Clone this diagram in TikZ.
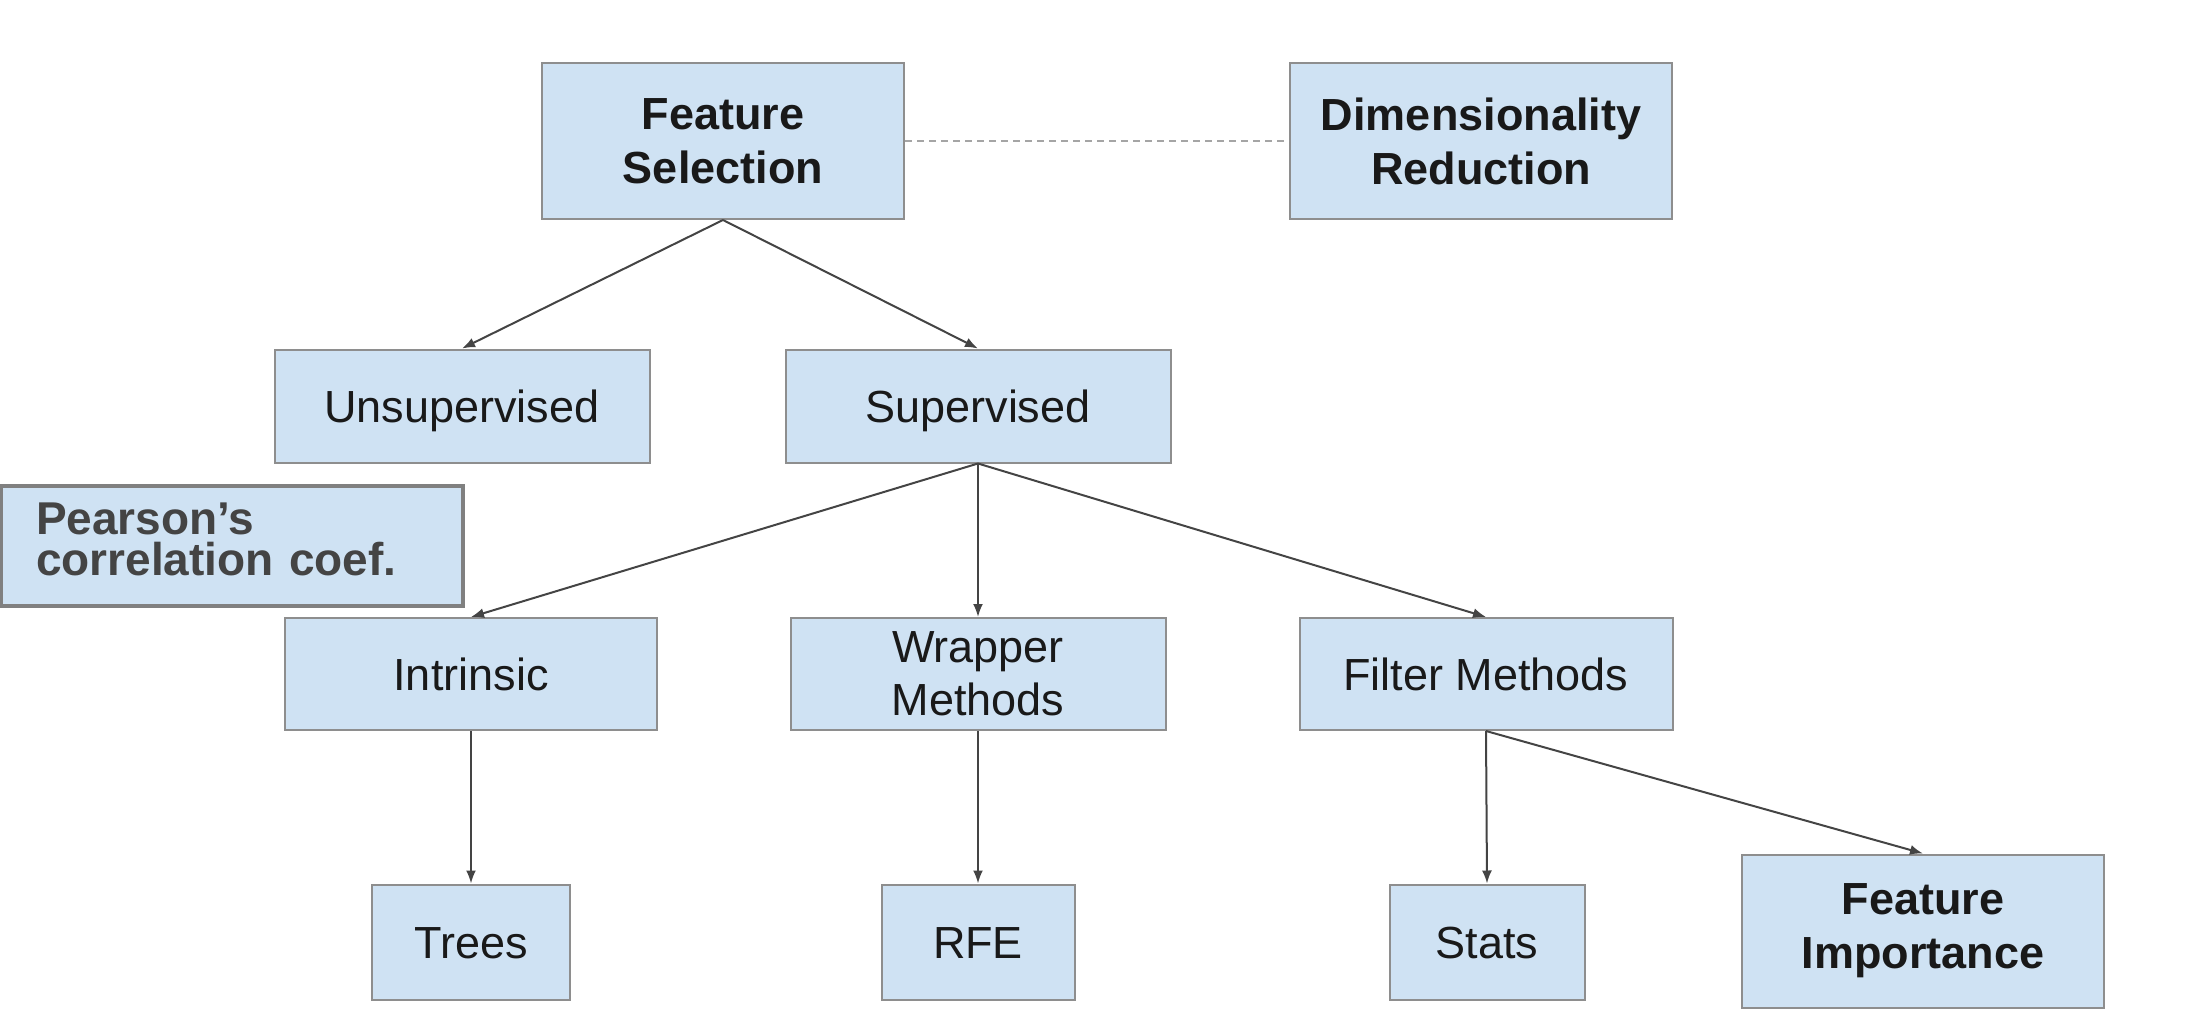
\documentclass[tikz,border=0pt]{standalone}
\usepackage{fontspec}
\setmainfont{Liberation Sans}
\usetikzlibrary{arrows.meta}
\definecolor{boxblue}{HTML}{CFE2F3}
\definecolor{boxline}{HTML}{8E8E8E}
\definecolor{arrline}{HTML}{444444}
\definecolor{notegray}{HTML}{444444}

\begin{document}
\begin{tikzpicture}[x=1pt,y=-1pt,
    >={Latex[length=13pt,width=10pt]},
    bnode/.style={draw=boxline, line width=2pt, fill=boxblue, align=center, inner sep=0pt, text=black!90, font=\fontsize{45}{53}\selectfont},
    snode/.style={bnode, text height=32pt, text depth=0pt},
    hnode/.style={bnode, font=\fontsize{45}{54}\selectfont\bfseries},
    pnode/.style={draw=boxline!90!black, line width=3.5pt, fill=boxblue, align=left, inner sep=0pt, text width=392pt, text height=34pt, text depth=58pt, text=notegray, font=\fontsize{46}{41}\selectfont\bfseries},
    conn/.style={draw=arrline, line width=2pt}]
    \useasboundingbox (0,0) rectangle (2201,1036);

    \node[hnode, minimum width=362pt, minimum height=156pt] (fs) at (723,141) {Feature\\Selection};
    \node[hnode, minimum width=382pt, minimum height=156pt] (dr) at (1481,141) {Dimensionality\\Reduction};
    \node[snode, minimum width=375pt, minimum height=113pt] (unsup) at (462,406) {Unsupervised};
    \node[snode, minimum width=385pt, minimum height=113pt] (sup) at (978,406) {Supervised};
    \node[pnode, minimum width=462pt, minimum height=120pt] (pc) at (232,546) {Pearson’s\\correlation coef.};
    \node[snode, minimum width=372pt, minimum height=112pt] (intr) at (471,674) {Intrinsic};
    \node[bnode, minimum width=375pt, minimum height=112pt] (wrap) at (978,674) {Wrapper\\Methods};
    \node[snode, minimum width=373pt, minimum height=112pt] (filt) at (1486,674) {Filter Methods};
    \node[snode, minimum width=198pt, minimum height=115pt] (trees) at (471,942) {Trees};
    \node[snode, minimum width=193pt, minimum height=115pt] (rfe) at (978,942) {RFE};
    \node[snode, minimum width=195pt, minimum height=115pt] (stats) at (1487,942) {Stats};
    \node[hnode, minimum width=362pt, minimum height=153pt] (fi) at (1923,931) {Feature\\Importance};

    \draw[draw=boxline!80, line width=2pt, dash pattern=on 7pt off 5pt] (fs) -- (dr);

    \draw[conn,->] (fs.south) -- (unsup.north);
    \draw[conn,->] (fs.south) -- (sup.north);
    \draw[conn,->] (sup.south) -- (intr.north);
    \draw[conn,->] (sup.south) -- (wrap.north);
    \draw[conn,->] (sup.south) -- (filt.north);
    \draw[conn,->] (intr.south) -- (trees.north);
    \draw[conn,->] (wrap.south) -- (rfe.north);
    \draw[conn,->] (filt.south) -- (stats.north);
    \draw[conn,->] (filt.south) -- (fi.north);
\end{tikzpicture}
\end{document}
